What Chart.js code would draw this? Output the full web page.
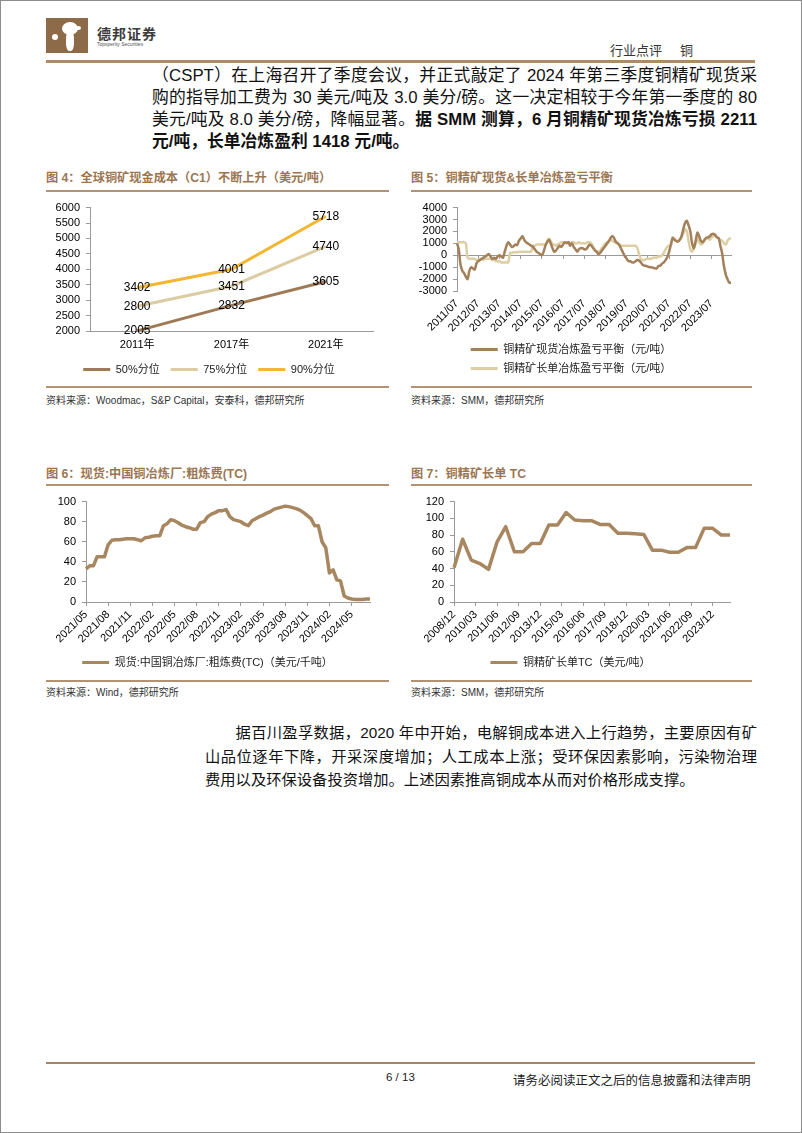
<!DOCTYPE html>
<html>
<head>
<meta charset="utf-8">
<script src="https://cdn.jsdelivr.net/npm/chart.js@4.4.1/dist/chart.umd.min.js"></script>
<style>
html, body { margin: 0; padding: 0; background: #fff; }
body { width: 802px; height: 1133px; position: relative; overflow: hidden;
       font-family: "Liberation Sans", "Noto Sans CJK SC", sans-serif; color: #111; }
.frame { position: absolute; left: 0; top: 0; width: 800px; height: 1131px; border: 1px solid #8c8c8c; }
.rule { position: absolute; height: 2px; background: #b39272; }
.ftitle { position: absolute; font-size: 12.2px; line-height: 16px; color: #9b7652; font-weight: bold; white-space: nowrap; }
.src { position: absolute; font-size: 10px; line-height: 14px; color: #333; white-space: nowrap; }
.para { position: absolute; color: #111; }
.para .jl { text-align: justify; text-align-last: justify; }
.box { position: absolute; }
</style>
</head>
<body>
<div class="frame"></div>

<!-- header -->
<div style="position:absolute;left:46px;top:18px;width:42px;height:35px;background:#8d6a48;overflow:hidden">
  <div style="position:absolute;left:16px;top:4px;width:16px;height:13px;border-radius:50%;background:#fff"></div>
  <div style="position:absolute;left:20px;top:13px;width:8px;height:20px;border-radius:40%;background:#fff"></div>
  <div style="position:absolute;left:6px;top:16px;width:6px;height:6px;border-radius:50%;background:#fff"></div>
  <div style="position:absolute;left:30px;top:8px;width:5px;height:4px;border-radius:50%;background:#fff"></div>
</div>
<div style="position:absolute;left:97px;top:23px;font-size:14px;font-weight:bold;color:#3b3b3b;letter-spacing:1px">德邦证券</div>
<div style="position:absolute;left:97px;top:41px;font-size:5px;color:#555">Topsperity Securities</div>
<div style="position:absolute;left:610px;top:40px;font-size:13px;color:#333;white-space:pre">行业点评     铜</div>
<div class="rule" style="left:46px;top:60px;width:709px;height:3px;background:#b08a68"></div>

<!-- paragraph 1 -->
<div class="para" style="left:152px;width:605px;top:65px;font-size:16.8px;line-height:22px">
  <div class="jl">（CSPT）在上海召开了季度会议，并正式敲定了 2024 年第三季度铜精矿现货采</div>
  <div class="jl">购的指导加工费为 30 美元/吨及 3.0 美分/磅。这一决定相较于今年第一季度的 80</div>
  <div class="jl">美元/吨及 8.0 美分/磅，降幅显著。<b>据 SMM 测算，6 月铜精矿现货冶炼亏损 2211</b></div>
  <div><b>元/吨，长单冶炼盈利 1418 元/吨。</b></div>
</div>

<!-- figure titles -->
<div class="ftitle" style="left:46px;top:170px">图 4：全球铜矿现金成本（C1）不断上升（美元/吨）</div>
<div class="ftitle" style="left:411px;top:170px">图 5：铜精矿现货&amp;长单冶炼盈亏平衡</div>
<div class="rule" style="left:46px;top:190px;width:343px"></div>
<div class="rule" style="left:411px;top:190px;width:341px"></div>

<div class="box" style="left:45px;top:195px;width:345px;height:190px"><canvas id="costChart"></canvas></div>
<div class="box" style="left:411px;top:195px;width:341px;height:189px"><canvas id="marginChart"></canvas></div>

<div class="rule" style="left:46px;top:386px;width:343px"></div>
<div class="rule" style="left:411px;top:386px;width:341px"></div>
<div class="src" style="left:46px;top:394px">资料来源：Woodmac，S&amp;P Capital，安泰科，德邦研究所</div>
<div class="src" style="left:411px;top:394px">资料来源：SMM，德邦研究所</div>

<div class="ftitle" style="left:46px;top:466px">图 6：现货:中国铜冶炼厂:粗炼费(TC)</div>
<div class="ftitle" style="left:411px;top:466px">图 7：铜精矿长单 TC</div>
<div class="rule" style="left:46px;top:484px;width:343px"></div>
<div class="rule" style="left:411px;top:484px;width:341px"></div>

<div class="box" style="left:45px;top:489px;width:345px;height:189px"><canvas id="spotTcChart"></canvas></div>
<div class="box" style="left:411px;top:489px;width:341px;height:189px"><canvas id="longTcChart"></canvas></div>

<div class="rule" style="left:46px;top:680px;width:343px"></div>
<div class="rule" style="left:411px;top:680px;width:341px"></div>
<div class="src" style="left:46px;top:686px">资料来源：Wind，德邦研究所</div>
<div class="src" style="left:411px;top:686px">资料来源：SMM，德邦研究所</div>

<!-- paragraph 2 -->
<div class="para" style="left:205px;width:552px;top:721px;font-size:15.3px;line-height:23.5px">
  <div class="jl" style="text-indent:2em">据百川盈孚数据，2020 年中开始，电解铜成本进入上行趋势，主要原因有矿</div>
  <div class="jl">山品位逐年下降，开采深度增加；人工成本上涨；受环保因素影响，污染物治理</div>
  <div>费用以及环保设备投资增加。上述因素推高铜成本从而对价格形成支撑。</div>
</div>

<!-- footer -->
<div class="rule" style="left:46px;top:1062px;width:709px;height:2px;background:#a88462"></div>
<div style="position:absolute;left:386px;top:1071px;font-size:11.5px;color:#222">6 / 13</div>
<div style="position:absolute;left:513px;top:1070px;font-size:12.5px;color:#222">请务必阅读正文之后的信息披露和法律声明</div>

<script>
// ---- data: figure 4, C1 cash cost (USD/t)
const costYears = ['2011年', '2017年', '2021年'];
const cost50 = [2005, 2832, 3605];
const cost75 = [2800, 3451, 4740];
const cost90 = [3402, 4001, 5718];

// ---- data: figure 5, smelting margin (CNY/t), monthly from 2011/07
const spotMargin = [
  1000, 500, -800, -1300, -1500, -1800, -2000, -1300, -1000, -1100, -1200, -700,
  -500, -400, -300, -200, -100, 0, 100, -100, -300, -200, -300, -100,
  0, -100, -200, 300, 800, 1100, 900, 700, 750, 900, 850, 1200,
  1400, 1600, 1300, 1100, 1000, 900, 800, 700, 500, 300, 200, 100,
  0, 300, 800, 1100, 1300, 1000, 600, 300, 400, 600, 800, 700,
  900, 1100, 1000, 1100, 800, 1000, 700, 500, 300, 500, 600, 600,
  500, 500, 700, 900, 800, 600, 400, 300, 100, 200, 400, 600,
  800, 1000, 1200, 1500, 1600, 1400, 1100, 1000, 800, 500, 200, -100,
  -300, -500, -500, -600, -600, -500, -400, -450, -600, -800, -870, -900,
  -950, -1000, -1000, -1050, -1100, -1100, -900, -870, -700, -600, -400, -150,
  300, 900, 1450, 1300, 1200, 1150, 1300, 1600, 2200, 2700, 2900, 2500,
  2000, 1000, 600, 1200, 1900, 1600, 1200, 1100, 1300, 1450, 1500, 1600,
  1750, 1800, 1700, 1500, 1450, 800, 150, -900, -1600, -2000, -2300, -2300
];
const longMargin = [
  1100, 1100, 1100, 1100, 1100, 1000, -200, -300, -300, -300, -300, -400,
  -400, -300, -300, -400, -300, -300, -300, -300, -400, -400, -500, -500,
  -500, -600, -600, -600, -600, -600, 200, 200, 250, 250, 250, 300,
  300, 300, 300, 300, 300, 300, 300, 800, 800, 900, 900, 900,
  900, 900, 900, 1200, 1400, 1200, 900, 900, 800, 900, 1000, 1100,
  1100, 1100, 1100, 1100, 1000, 1100, 1100, 1000, 1000, 1100, 1000, 1000,
  1000, 1000, 1100, 1100, 1000, 700, 500, 300, 300, 400, 600, 800,
  1000, 1100, 1200, 1300, 1200, 1100, 1100, 1000, 900, 800, 800, 800,
  800, 800, 800, 800, 800, 800, 600, 100, -300, -400, -400, -300,
  -300, -300, -300, -200, -200, -200, -100, -100, 0, 200, 500, 700,
  800, 800, 1500, 1400, 1200, 1200, 1300, 1500, 1800, 2200, 2000, 1200,
  500, 300, 600, 1000, 1400, 1100, 900, 1000, 1200, 1500, 1400, 1300,
  1500, 1600, 1700, 1500, 1400, 1300, 1200, 1000, 900, 1200, 1400, 1400
];

// ---- data: figure 6, spot TC (USD/t), twice a month from 2021/05
const spotTc = [
  33, 36, 36, 45, 45, 45, 57, 61.5, 62, 62, 62.5, 63,
  63, 63, 62, 61, 64, 64.5, 65.5, 66, 66, 76, 78, 82,
  81, 79, 76.5, 75, 74, 72.5, 72.5, 79, 80, 85, 87.5, 89,
  91, 91, 92, 85, 82, 81, 80, 77.5, 76, 81, 83, 85,
  86.5, 88.5, 90, 92.5, 93.5, 94.5, 95.5, 95, 94, 93, 91.5, 89,
  86, 83, 76, 76, 60, 54, 29, 32, 22, 21, 6, 4,
  3, 2.5, 2.5, 2.5, 3, 3
];

// ---- data: figure 7, long-term TC (USD/t), half-yearly
const longTcDates = [
  '2008/12', '2009/06', '2009/12', '2010/06', '2010/12', '2011/06', '2011/12',
  '2012/06', '2012/12', '2013/06', '2013/12', '2014/06', '2014/12', '2015/06',
  '2015/12', '2016/06', '2016/12', '2017/06', '2017/12', '2018/06', '2018/12',
  '2019/06', '2019/12', '2020/06', '2020/12', '2021/06', '2021/12', '2022/06',
  '2022/12', '2023/06', '2023/12', '2024/06', '2024/12'
];
const longTc = [
  41, 75, 50, 46, 39, 72, 90, 60, 60, 70, 70, 92, 92, 107, 98, 97, 97,
  92.5, 92.5, 82.25, 82.25, 81.5, 80.8, 62, 62, 59.5, 59.5, 65, 65, 88, 88, 80, 80
];

// month label helper (category labels only)
function monthLabels(year, month, count) {
  const out = [];
  for (let i = 0; i < count; i++) {
    const m = (month - 1 + i) % 12 + 1;
    const y = year + Math.floor((month - 1 + i) / 12);
    out.push(y + '/' + String(m).padStart(2, '0'));
  }
  return out;
}
const marginLabels = monthLabels(2011, 7, spotMargin.length);
const spotTcLabels = [];
monthLabels(2021, 5, Math.ceil(spotTc.length / 2)).forEach(m => { spotTcLabels.push(m + '/01', m + '/16'); });
spotTcLabels.length = spotTc.length;
const longTcLabels = monthLabels(2008, 12, 193);

// colours
const axisGray = '#9a9a9a';
const brownDark = '#9e7a55';
const beige = '#dccca4';
const gold = '#f2b632';
const tcBrown = '#a8865f';

Chart.defaults.font.family = '"Liberation Sans", "Noto Sans CJK SC", sans-serif';
Chart.defaults.font.size = 11;
Chart.defaults.color = '#000';
Chart.defaults.animation = false;

// legend with flat line swatches
function flatLegend(chart) {
  return Chart.defaults.plugins.legend.labels.generateLabels(chart).map(it => ({ ...it, fillStyle: it.strokeStyle, lineWidth: 0 }));
}
function legendOpts(padding) {
  return {
    position: 'bottom',
    labels: { boxWidth: 27, boxHeight: 3, padding: padding, color: '#222', font: { size: 11 }, generateLabels: flatLegend }
  };
}
function yAxis(min, max, step, width) {
  return {
    min: min, max: max,
    ticks: { stepSize: step, padding: 6, color: '#000', autoSkip: false, callback: v => String(v) },
    grid: { drawOnChartArea: false, tickLength: 4, color: axisGray },
    border: { color: axisGray },
    afterFit(scale) { scale.width = width; }
  };
}
function everyNth(n) {
  return function (value, index) {
    return index % n === 0 ? this.getLabelForValue(value).slice(0, 7) : '';
  };
}
function fixHeight(h) {
  return function (scale) { scale.height = h; };
}

// values printed on the points of figure 4
const pointLabels = {
  id: 'pointLabels',
  afterDatasetsDraw(chart) {
    const ctx = chart.ctx;
    ctx.save();
    ctx.font = '12px "Liberation Sans", sans-serif';
    ctx.fillStyle = '#000';
    ctx.textAlign = 'center';
    ctx.textBaseline = 'middle';
    chart.data.datasets.forEach((ds, i) => {
      chart.getDatasetMeta(i).data.forEach((pt, j) => {
        ctx.fillText(ds.data[j], pt.x, pt.y);
      });
    });
    ctx.restore();
  }
};

// Figure 4
new Chart(document.getElementById('costChart'), {
  type: 'line',
  data: {
    labels: costYears,
    datasets: [
      { label: '50%分位', data: cost50, borderColor: brownDark, borderWidth: 3, pointRadius: 0 },
      { label: '75%分位', data: cost75, borderColor: beige, borderWidth: 3, pointRadius: 0 },
      { label: '90%分位', data: cost90, borderColor: gold, borderWidth: 3, pointRadius: 0 }
    ]
  },
  options: {
    responsive: true, maintainAspectRatio: false,
    layout: { padding: { top: 6, right: 17, bottom: 0, left: 0 } },
    plugins: { legend: legendOpts(11), tooltip: { enabled: false } },
    scales: {
      x: {
        offset: true,
        grid: { display: false, drawTicks: false },
        border: { color: axisGray },
        ticks: { padding: 7 },
        afterFit: fixHeight(22)
      },
      y: yAxis(2000, 6000, 500, 45)
    }
  },
  plugins: [pointLabels]
});

// Figure 5
new Chart(document.getElementById('marginChart'), {
  type: 'line',
  data: {
    labels: marginLabels,
    datasets: [
      { label: '铜精矿现货冶炼盈亏平衡（元/吨）', data: spotMargin, borderColor: '#a3805a', borderWidth: 2.5, pointRadius: 0, tension: 0.3 },
      { label: '铜精矿长单冶炼盈亏平衡（元/吨）', data: longMargin, borderColor: '#ddcfa3', borderWidth: 2.5, pointRadius: 0, tension: 0.3 }
    ]
  },
  options: {
    responsive: true, maintainAspectRatio: false,
    layout: { padding: { top: 7, right: 21, bottom: 0, left: 0 } },
    plugins: { legend: legendOpts(8), tooltip: { enabled: false } },
    scales: {
      x: {
        grid: { display: false, drawTicks: false }, border: { display: false },
        ticks: { autoSkip: false, maxRotation: 45, minRotation: 45, padding: 6, callback: everyNth(12) },
        afterFit: fixHeight(45)
      },
      zero: {
        type: 'category', axis: 'x', position: { y: 0 },
        ticks: { display: false },
        grid: { drawOnChartArea: false, tickLength: 3, color: c => c.index % 12 === 0 ? axisGray : 'rgba(0,0,0,0)' },
        border: { color: axisGray }
      },
      y: yAxis(-3000, 4000, 1000, 46)
    }
  }
});

// Figure 6
new Chart(document.getElementById('spotTcChart'), {
  type: 'line',
  data: {
    labels: spotTcLabels,
    datasets: [
      { label: '现货:中国铜冶炼厂:粗炼费(TC)（美元/千吨）', data: spotTc, borderColor: tcBrown, borderWidth: 3.5, pointRadius: 0, borderJoinStyle: 'round' }
    ]
  },
  options: {
    responsive: true, maintainAspectRatio: false,
    layout: { padding: { top: 7, right: 20, bottom: 0, left: 0 } },
    plugins: { legend: legendOpts(10), tooltip: { enabled: false } },
    scales: {
      x: {
        grid: { drawOnChartArea: false, tickLength: 4, color: c => c.index % 6 === 0 ? axisGray : 'rgba(0,0,0,0)' },
        border: { color: axisGray },
        ticks: { autoSkip: false, maxRotation: 45, minRotation: 45, padding: 2, callback: everyNth(6) },
        afterFit: fixHeight(45)
      },
      y: yAxis(0, 100, 20, 41)
    }
  }
});

// Figure 7
new Chart(document.getElementById('longTcChart'), {
  type: 'line',
  data: {
    labels: longTcLabels,
    datasets: [
      { label: '铜精矿长单TC（美元/吨）', data: longTcDates.map((d, i) => ({ x: d, y: longTc[i] })),
        borderColor: tcBrown, borderWidth: 3.5, pointRadius: 0, borderJoinStyle: 'round' }
    ]
  },
  options: {
    responsive: true, maintainAspectRatio: false,
    layout: { padding: { top: 7, right: 22, bottom: 0, left: 0 } },
    plugins: { legend: legendOpts(10), tooltip: { enabled: false } },
    scales: {
      x: {
        grid: { drawOnChartArea: false, tickLength: 4, color: c => c.index % 15 === 0 ? axisGray : 'rgba(0,0,0,0)' },
        border: { color: axisGray },
        ticks: { autoSkip: false, maxRotation: 45, minRotation: 45, padding: 2, callback: everyNth(15) },
        afterFit: fixHeight(45)
      },
      y: yAxis(0, 120, 20, 43)
    }
  }
});
</script>
</body>
</html>
